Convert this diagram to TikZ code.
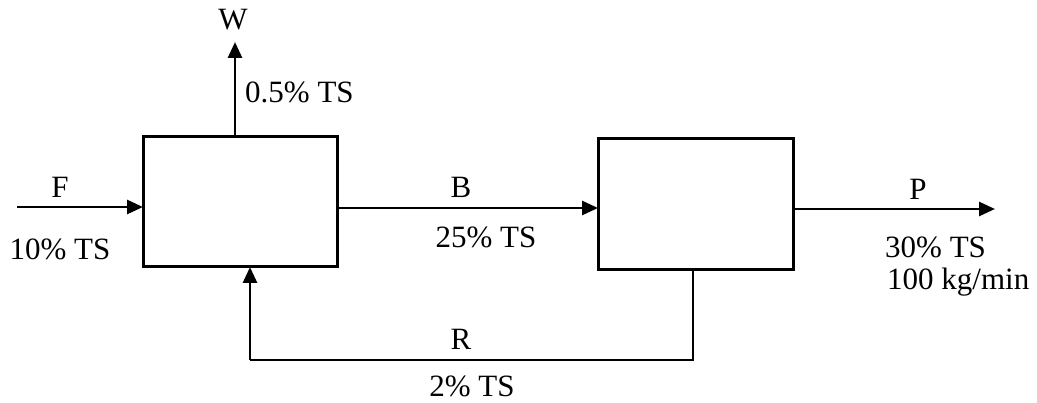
\documentclass[tikz,border=0pt]{standalone}
\usepackage{fontspec}
\setmainfont{Liberation Serif}
\usetikzlibrary{arrows.meta}
\begin{document}
\begin{tikzpicture}[x=1pt,y=-1pt,
  unit/.style={draw,line width=3pt,minimum width=194pt,minimum height=130pt,inner sep=0pt,outer sep=0pt},
  flow/.style={line width=2.8pt,-{Triangle[length=16pt,width=14pt]}},
  pipe/.style={line width=2.8pt},
  lbl/.style={font=\fontsize{31}{34}\selectfont,inner sep=0pt,anchor=base},
  lblw/.style={lbl,anchor=base west}]
\useasboundingbox (0,0) rectangle (1037,403);
\node[unit] (u1) at (240,202) {};
\node[unit,minimum width=195pt,minimum height=131pt] (u2) at (695.5,204.5) {};
\coordinate (fin) at (17,207);
\coordinate (wout) at (235,42);
\coordinate (pout) at (995,209);
\coordinate (rb) at (693,360);
\coordinate (lb) at (250,360);
% F
\draw[flow] (fin) -- (fin -| u1.west);
% W
\draw[flow] (u1.north -| wout) -- (wout);
% B
\draw[flow] (u1.east |- 0,208) -- (u2.west |- 0,208);
% P
\draw[flow] (u2.east |- pout) -- (pout);
% R
\draw[pipe] (u2.south -| rb) -- (rb) -- (lb);
\draw[flow] (lb) -- (u1.south -| lb);
% labels
\node[lbl] (lw) at (233,30) {W};
\node[lblw] (lwts) at (245,103) {0.5\% TS};
\node[lbl] (lf) at (60,198) {F};
\node[lbl] (lfts) at (60,260) {10\% TS};
\node[lbl] (lb1) at (461,198) {B};
\node[lbl] (lbts) at (486,248) {25\% TS};
\node[lbl] (lp) at (918,200) {P};
\node[lblw] (lpts) at (885,258) {30\% TS};
\node[lblw] (lpm) at (887,290) {100 kg/min};
\node[lbl] (lr) at (461,350) {R};
\node[lbl] (lrts) at (472,397) {2\% TS};
\end{tikzpicture}
\end{document}
